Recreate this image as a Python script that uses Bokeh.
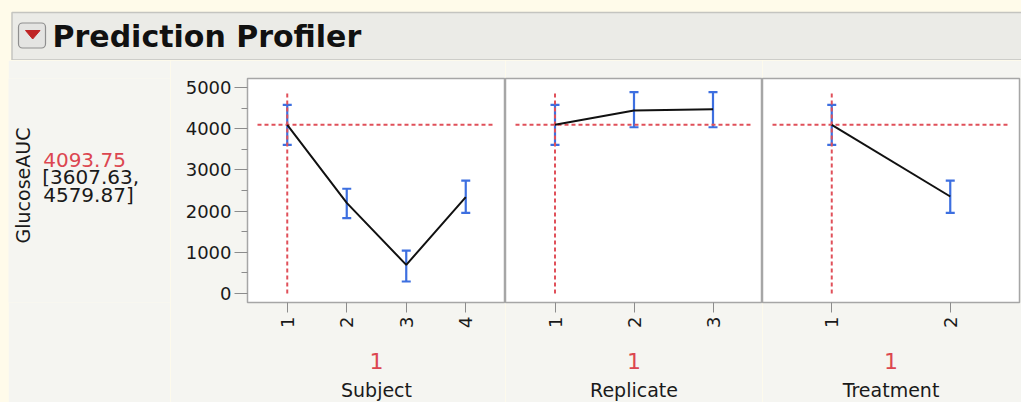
from bokeh.plotting import figure
from bokeh.layouts import row, column
from bokeh.models import Range1d, FixedTicker, Whisker, TeeHead, ColumnDataSource, Label, LinearAxis
from bokeh.embed import file_html
from bokeh.resources import INLINE
from math import pi

# ---------------- data ----------------
response_name = "GlucoseAUC"
pred_value = 4093.75
pred_lower = 3607.63
pred_upper = 4579.87

factor_names = ["Subject", "Replicate", "Treatment"]
current_levels = ["1", "1", "1"]

subject_levels = ["1", "2", "3", "4"]
subject_pred = [4093.75, 2200, 695, 2340]
subject_lower = [3607.63, 1830, 292, 1958]
subject_upper = [4579.87, 2542, 1043, 2742]

replicate_levels = ["1", "2", "3"]
replicate_pred = [4093.75, 4442, 4473]
replicate_lower = [3607.63, 4035, 4035]
replicate_upper = [4579.87, 4888, 4888]

treatment_levels = ["1", "2"]
treatment_pred = [4093.75, 2354]
treatment_lower = [3607.63, 1958]
treatment_upper = [4579.87, 2742]

y_ticks = [0, 1000, 2000, 3000, 4000, 5000]
y_min, y_max = -218, 5218
vline_bottom, vline_top = 0, 4888

# ---------------- style ----------------
CREAM = "#fffbea"
BODY = "#f5f5f1"
HEAD_FILL = "#ebebe7"
HEAD_LINE = "#c4c4c0"
FRAME_GRAY = "#a6a6a6"
TICK_GRAY = "#8c8c8c"
RED = "#dc4650"
DASH_RED = "#e0505a"
BLUE = "#3d6fe0"
TXT = "#1a1a1a"
FONT = "DejaVu Sans"

TOTAL_W = 1013
HEAD_H = 52
FRAME_TOP = 18
FRAME_H = 224
FRAME_BOTTOM = 105
BODY_H = FRAME_TOP + FRAME_H + FRAME_BOTTOM
LEFT_W = 162


def lab(p, x, y, text, size, color=TXT, bold=False, align="left", angle=0.0):
    p.add_layout(Label(x=x, y=y, x_units="data", y_units="data", text=text,
                       text_font=FONT, text_font_size=size, text_color=color,
                       text_font_style="bold" if bold else "normal",
                       text_align=align, text_baseline="middle", angle=angle))


# ---------------- header ----------------
hdr = figure(width=TOTAL_W, height=HEAD_H, x_range=Range1d(0, TOTAL_W), y_range=Range1d(0, HEAD_H),
             min_border=0, x_axis_location=None, y_axis_location=None,
             output_backend="svg", toolbar_location=None,
             background_fill_color=CREAM, border_fill_color=CREAM, outline_line_color=None)
hdr.xgrid.visible = False
hdr.ygrid.visible = False
def HX(ax): return ax - 8
def HY(ay): return 60 - ay
hdr.quad(left=HX(11.5), right=HX(1040), top=HY(12), bottom=HY(59.5),
         fill_color=HEAD_FILL, line_color=HEAD_LINE, line_width=1.5)
hdr.rect(x=HX(31.5), y=HY(35), width=27, height=25, border_radius=4,
         fill_color="#e4e4e2", line_color="#8f8f8f", line_width=1.2)
hdr.patch(x=[HX(25), HX(39.5), HX(32.2)], y=[HY(30), HY(30), HY(38.5)],
          fill_color="#bf2424", line_color="#bf2424")
lab(hdr, HX(52), HY(36), "Prediction Profiler", "30px", color="#111111", bold=True)

# ---------------- left response labels ----------------
# frame aligned with the panels' frames; y data == 402 - page y
lf = figure(width=LEFT_W, height=BODY_H, x_range=Range1d(0, LEFT_W),
            y_range=Range1d(402 - 60 - FRAME_TOP - FRAME_H, 402 - 60 - FRAME_TOP),
            min_border_left=0, min_border_right=0,
            min_border_top=FRAME_TOP, min_border_bottom=FRAME_BOTTOM,
            x_axis_location=None, y_axis_location=None,
            output_backend="svg", toolbar_location=None,
            background_fill_color=BODY, border_fill_color=BODY, outline_line_color=None)
lf.xgrid.visible = False
lf.ygrid.visible = False
def LX(ax): return ax - 8
def LY(ay): return 402 - ay
lab(lf, LX(22.5), LY(185), response_name, "19px", align="center", angle=pi / 2)
lab(lf, LX(42.7), LY(159.4), f"{pred_value:.2f}", "20px", color=RED)
lab(lf, LX(41.7), LY(176.8), f"[{pred_lower:.2f},", "20px")
lab(lf, LX(42.7), LY(194.4), f"{pred_upper:.2f}]", "20px")

# ---------------- panels ----------------
def make_panel(name, levels, pred, lower, upper, current, frame_w, left_border, right_border, show_y):
    n = len(levels)
    xs = list(range(1, n + 1))
    pad = 10 * n / (frame_w - 20)
    p = figure(width=frame_w + left_border + right_border, height=BODY_H,
               x_range=Range1d(0.5 - pad, n + 0.5 + pad), y_range=Range1d(y_min, y_max),
               min_border_left=left_border, min_border_right=right_border,
               min_border_top=FRAME_TOP, min_border_bottom=FRAME_BOTTOM,
               y_axis_location="left" if show_y else None,
               output_backend="svg", toolbar_location=None,
               background_fill_color="white", border_fill_color=BODY,
               outline_line_color=FRAME_GRAY, outline_line_width=1.5)
    p.xgrid.visible = False
    p.ygrid.visible = False

    ax = p.xaxis[0]
    ax.ticker = FixedTicker(ticks=xs)
    ax.major_label_overrides = {x: lv for x, lv in zip(xs, levels)}
    ax.major_label_orientation = pi / 2
    ax.axis_line_color = None
    ax.major_tick_line_color = TICK_GRAY
    ax.major_tick_out = 10
    ax.major_tick_in = 0
    ax.minor_tick_line_color = None
    ax.major_label_standoff = 4
    ax.major_label_text_font = FONT
    ax.major_label_text_font_size = "18px"
    ax.major_label_text_color = TXT

    # second axis below: current setting (red) and the factor name
    cx = (n + 1) / 2
    ax2 = LinearAxis(ticker=FixedTicker(ticks=[cx]), major_label_overrides={cx: current},
                     axis_line_color=None, major_tick_line_color=None, minor_tick_line_color=None,
                     major_tick_out=0, major_tick_in=0, minor_tick_out=0, minor_tick_in=0,
                     major_label_standoff=22, major_label_text_font=FONT,
                     major_label_text_font_size="22px", major_label_text_color=RED,
                     axis_label=name, axis_label_standoff=7, axis_label_text_font=FONT,
                     axis_label_text_font_size="19px", axis_label_text_font_style="normal",
                     axis_label_text_color=TXT)
    p.add_layout(ax2, "below")

    if show_y:
        ya = p.yaxis[0]
        ya.ticker = FixedTicker(ticks=y_ticks,
                                minor_ticks=[t + 500 for t in y_ticks[:-1]])
        ya.axis_line_color = None
        ya.major_tick_line_color = TICK_GRAY
        ya.minor_tick_line_color = TICK_GRAY
        ya.major_tick_out = 13
        ya.major_tick_in = 0
        ya.minor_tick_out = 6
        ya.minor_tick_in = 0
        ya.major_label_standoff = 3
        ya.major_label_text_font = FONT
        ya.major_label_text_font_size = "18px"
        ya.major_label_text_color = TXT

    cur_x = levels.index(current) + 1
    cur_y = pred[levels.index(current)]
    p.segment(x0=[0.5], x1=[n + 0.5], y0=[cur_y], y1=[cur_y],
              line_color=DASH_RED, line_width=2, line_dash="4 3")
    p.segment(x0=[cur_x], x1=[cur_x], y0=[vline_bottom], y1=[vline_top],
              line_color=DASH_RED, line_width=2, line_dash="4 3")
    p.line(x=xs, y=pred, line_color="#111111", line_width=2)

    src = ColumnDataSource(dict(x=xs, lower=lower, upper=upper))
    w = Whisker(source=src, base="x", lower="lower", upper="upper", dimension="height",
                line_color=BLUE, line_width=2.2,
                upper_head=TeeHead(size=9, line_color=BLUE, line_width=2.2),
                lower_head=TeeHead(size=9, line_color=BLUE, line_width=2.2))
    p.add_layout(w)
    return p

p1 = make_panel(factor_names[0], subject_levels, subject_pred, subject_lower, subject_upper,
                current_levels[0], 258, 77, 0, True)
p2 = make_panel(factor_names[1], replicate_levels, replicate_pred, replicate_lower, replicate_upper,
                current_levels[1], 257, 0, 0, False)
p3 = make_panel(factor_names[2], treatment_levels, treatment_pred, treatment_lower, treatment_upper,
                current_levels[2], 257, 0, 2, False)

layout = column(hdr, row(lf, p1, p2, p3, spacing=0), spacing=0)

html = file_html(layout, INLINE)
html = html.replace("</head>",
                    "<style>html,body{overflow:hidden;background:%s;}body{margin:8px 0 0 8px;}</style></head>" % CREAM, 1)
open("out.html", "w").write(html)
